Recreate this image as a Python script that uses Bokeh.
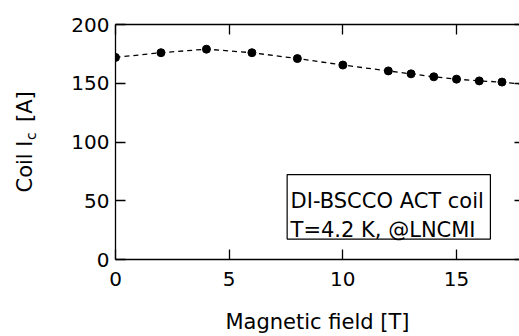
import math
from bokeh.plotting import figure
from bokeh.layouts import row
from bokeh.models import (Range1d, LinearAxis, FixedTicker, CustomJSTickFormatter,
                          BoxAnnotation, Label, ColumnDataSource)
from bokeh.embed import file_html
from bokeh.resources import INLINE

# ---- data ----
field_T = [0, 2, 4, 6, 8, 10, 12, 13, 14, 15, 16, 17, 18]
coil_ic_A = [172, 176, 179, 176, 171, 165.5, 160.5, 158, 155.5, 153.5, 152, 151, 149]
x_ticks = [0, 5, 10, 15]
y_ticks = [0, 50, 100, 150, 200]
x_label = "Magnetic field [T]"
y_label_parts = ["Coil I", "c", "[A]"]
note_lines = ["DI-BSCCO ACT coil", "T=4.2 K, @LNCMI"]

FONT = "DejaVu Sans"
X_END = 17.77
W, H = 519, 336
LBL_W = 45
TOP, BOTTOM = 24, 77

# ---- left strip holding the y-axis title (with subscript) ----
lab = figure(width=LBL_W, height=H, output_backend="svg", toolbar_location=None,
             x_range=Range1d(0, LBL_W), y_range=Range1d(0, 200),
             min_border_left=0, min_border_right=0, min_border_top=TOP,
             min_border_bottom=BOTTOM)
lab.axis.visible = False
lab.grid.visible = False
lab.outline_line_color = None
ang = math.pi / 2
lab.add_layout(Label(x=24, y=57.0, text=y_label_parts[0], angle=ang, text_font=FONT,
                     text_font_size="21px", text_color="black", text_baseline="alphabetic"))
lab.add_layout(Label(x=30.5, y=101.8, text=y_label_parts[1], angle=ang, text_font=FONT,
                     text_font_size="14px", text_color="black", text_baseline="alphabetic"))
lab.add_layout(Label(x=24, y=117.0, text=y_label_parts[2], angle=ang, text_font=FONT,
                     text_font_size="21px", text_color="black", text_baseline="alphabetic"))

# ---- main plot ----
p = figure(width=W - LBL_W, height=H, output_backend="svg", toolbar_location=None,
           x_range=Range1d(0, X_END), y_range=Range1d(0, 200),
           min_border_left=115 - LBL_W, min_border_right=0, min_border_top=TOP,
           min_border_bottom=BOTTOM)
p.outline_line_color = None
p.grid.visible = False
p.background_fill_color = "white"
p.border_fill_color = "white"

src = ColumnDataSource(dict(x=field_T, y=coil_ic_A))
p.line("x", "y", source=src, line_color="black", line_width=1.3, line_dash="5 4")
p.scatter("x", "y", source=src, size=8, fill_color="black", line_color="black")


def style_axis(ax, labels=True):
    ax.major_tick_in = 10
    ax.major_tick_out = 0
    ax.minor_tick_in = 0
    ax.minor_tick_out = 0
    ax.axis_line_color = "black"
    ax.axis_line_width = 1.3
    ax.major_tick_line_width = 1.3
    ax.major_tick_line_color = "black"
    ax.major_label_text_font = FONT
    ax.major_label_text_font_size = "20px"
    ax.major_label_text_color = "black"
    ax.axis_label_text_font = FONT
    ax.axis_label_text_font_style = "normal"
    ax.axis_label_text_color = "black"
    ax.axis_label_text_font_size = "21px"
    if not labels:
        ax.formatter = CustomJSTickFormatter(code="return ''")
        ax.major_label_standoff = 0


xb = p.xaxis[0]
xb.ticker = FixedTicker(ticks=x_ticks)
style_axis(xb)
xb.major_label_standoff = 12
xb.axis_label = x_label
xb.axis_label_standoff = 21

yl = p.yaxis[0]
yl.ticker = FixedTicker(ticks=y_ticks)
style_axis(yl)
yl.major_label_standoff = 6

xt = LinearAxis(ticker=FixedTicker(ticks=x_ticks))
style_axis(xt, labels=False)
p.add_layout(xt, "above")

yr = LinearAxis(ticker=FixedTicker(ticks=y_ticks))
style_axis(yr, labels=False)
yr.axis_line_color = None
yr.major_tick_in = 5
p.add_layout(yr, "right")

# annotation box
p.add_layout(BoxAnnotation(left=7.55, right=16.49, bottom=17.4, top=72.3,
                           fill_color="white", fill_alpha=1.0,
                           line_color="black", line_alpha=1.0, line_width=1.2))
p.add_layout(Label(x=7.7, y=50.2, text=note_lines[0], text_font=FONT,
                   text_font_size="21px", text_color="black", text_baseline="alphabetic"))
p.add_layout(Label(x=7.7, y=25.5, text=note_lines[1], text_font=FONT,
                   text_font_size="21px", text_color="black", text_baseline="alphabetic"))

layout = row(lab, p)
open("out.html", "w").write(file_html(layout, INLINE))
